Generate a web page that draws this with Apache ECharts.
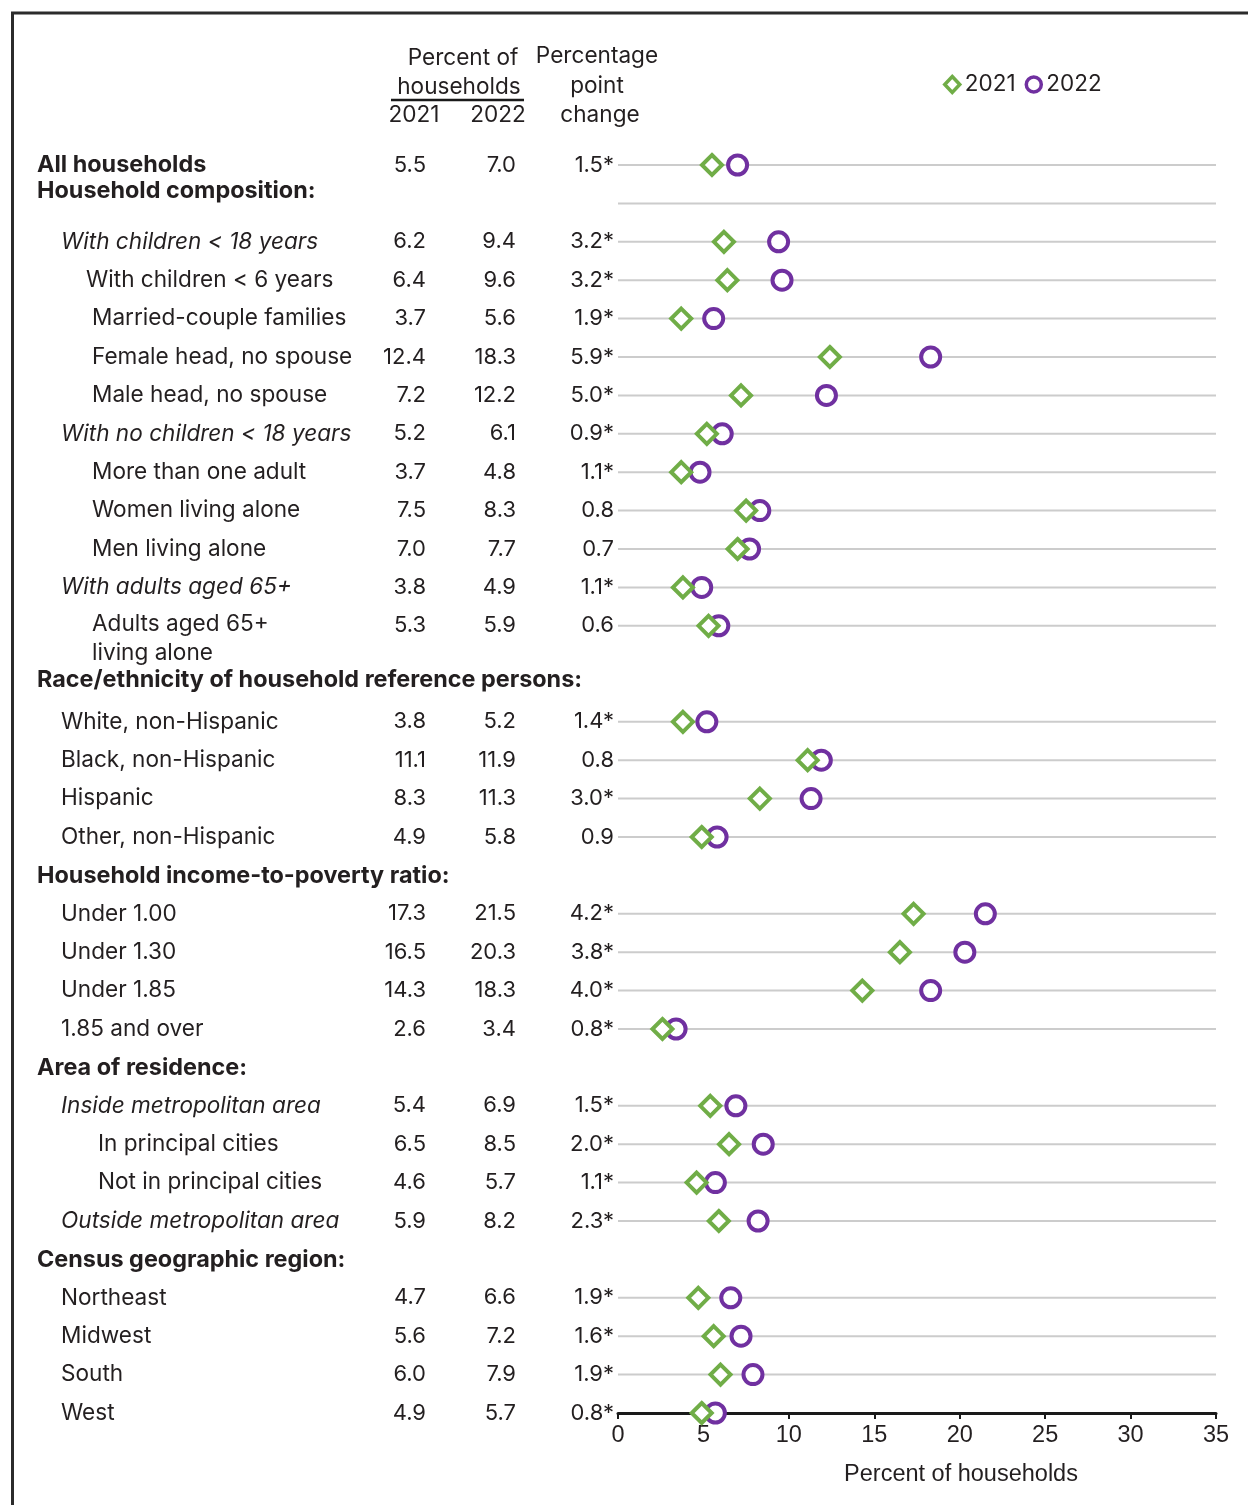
<!DOCTYPE html>
<html><head><meta charset="utf-8">
<script src="https://cdn.jsdelivr.net/npm/echarts@6/dist/echarts.min.js"></script>
<style>html,body{margin:0;padding:0;background:#fff}#c{width:1248px;height:1505px}</style>
</head><body><div id="c"></div>
<script>
// ---- data ----
const categories = [
  'All households',
  'Household composition:',
  'With children < 18 years',
  'With children < 6 years',
  'Married-couple families',
  'Female head, no spouse',
  'Male head, no spouse',
  'With no children < 18 years',
  'More than one adult',
  'Women living alone',
  'Men living alone',
  'With adults aged 65+',
  'Adults aged 65+\nliving alone',
  'Race/ethnicity of household reference persons:',
  'White, non-Hispanic',
  'Black, non-Hispanic',
  'Hispanic',
  'Other, non-Hispanic',
  'Household income-to-poverty ratio:',
  'Under 1.00',
  'Under 1.30',
  'Under 1.85',
  '1.85 and over',
  'Area of residence:',
  'Inside metropolitan area',
  'In principal cities',
  'Not in principal cities',
  'Outside metropolitan area',
  'Census geographic region:',
  'Northeast',
  'Midwest',
  'South',
  'West'
];
const rowType = ['total','header','italic','item','item','item','item','italic','item','item','item','italic','item',
  'header','item','item','item','item','header','item','item','item','item',
  'header','italic','item','item','italic','header','item','item','item','item'];
const indentLevel = [0,0,1,2,3,3,3,1,3,3,3,1,3, 0,1,1,1,1, 0,1,1,1,1, 0,1,4,4,1, 0,1,1,1,1];
const values2021 = [5.5,null,6.2,6.4,3.7,12.4,7.2,5.2,3.7,7.5,7.0,3.8,5.3,
  null,3.8,11.1,8.3,4.9, null,17.3,16.5,14.3,2.6, null,5.4,6.5,4.6,5.9, null,4.7,5.6,6.0,4.9];
const values2022 = [7.0,null,9.4,9.6,5.6,18.3,12.2,6.1,4.8,8.3,7.7,4.9,5.9,
  null,5.2,11.9,11.3,5.8, null,21.5,20.3,18.3,3.4, null,6.9,8.5,5.7,8.2, null,6.6,7.2,7.9,5.7];
const changeLabels = ['1.5*','', '3.2*','3.2*','1.9*','5.9*','5.0*','0.9*','1.1*','0.8','0.7','1.1*','0.6',
  '', '1.4*','0.8','3.0*','0.9', '', '4.2*','3.8*','4.0*','0.8*', '', '1.5*','2.0*','1.1*','2.3*', '', '1.9*','1.6*','1.9*','0.8*'];
const seriesNames = ['2021','2022'];
const xAxisName = 'Percent of households';

// ---- layout (row slots in half-row units) ----
const slots = [], labelSlots = [], gridSlots = [];
(function(){
  let s = 0, pendingHeader = -1, prevTwoLine = false, prevSlot = 0, headerHasLine = false;
  for (let i = 0; i < categories.length; i++) {
    if (i === 0) { slots[i] = 0; labelSlots[i] = 0; gridSlots.push(0); continue; }
    if (rowType[i] === 'header') {
      if (rowType[i-1] === 'total') {
        s += 2; slots[i] = s; labelSlots[i] = s - 0.65; gridSlots.push(s); headerHasLine = true;
      } else { slots[i] = null; headerHasLine = false; }
      pendingHeader = i; prevSlot = s; continue;
    }
    if (pendingHeader >= 0) {
      if (headerHasLine) s += 2;
      else {
        s += 4 + (prevTwoLine ? 1 : 0);
        labelSlots[pendingHeader] = (prevSlot + s) / 2 + (prevTwoLine ? 0.3 : 0.05);
      }
      pendingHeader = -1;
    } else s += 2;
    slots[i] = s; labelSlots[i] = s; gridSlots.push(s);
    prevTwoLine = categories[i].indexOf('\n') >= 0;
  }
})();
const maxSlot = slots[slots.length - 1];

const TXT = '#231f20';
const FONT = 'Inter, "Noto Sans", sans-serif';
const AXFONT = '"Liberation Sans", Arial, sans-serif';
const indentPx = [37, 61, 86, 92, 98];
const colX = [426, 516, 614];
const green = '#70ad47', purple = '#7030a0';

const chart = echarts.init(document.getElementById('c'), null, {renderer: 'canvas'});

function txt(x, y, text, opt) {
  opt = opt || {};
  return {
    type: 'text', x: x, y: y, silent: true,
    style: Object.assign({
      text: text, fill: TXT, fontFamily: FONT, fontSize: 22,
      align: opt.align || 'left', verticalAlign: opt.va || 'middle',
      textAlign: opt.align || 'left', textVerticalAlign: opt.va || 'middle'
    }, opt.style || {})
  };
}

const rowData = categories.map((c, i) => [0, labelSlots[i], i]);

const option = {
  animation: false,
  backgroundColor: '#fff',
  grid: {left: 618, right: 32, top: 165, bottom: 92, containLabel: false, outerBoundsMode: 'none'},
  legend: {
    left: 938, top: 68, itemWidth: 15, itemHeight: 16, itemGap: 9,
    data: seriesNames,
    textStyle: {fontFamily: FONT, fontSize: 22.5, color: TXT},
    itemStyle: {borderWidth: 3.5}
  },
  xAxis: {
    type: 'value', min: 0, max: 35, interval: 5, z: 3,
    axisLine: {show: true, onZero: false, lineStyle: {color: '#1a1a1a', width: 3}},
    axisTick: {show: true, length: 6, lineStyle: {color: '#1a1a1a', width: 2}},
    axisLabel: {fontFamily: AXFONT, fontSize: 23.5, color: TXT, margin: 11},
    splitLine: {show: false},
    name: xAxisName, nameLocation: 'middle', nameGap: 50,
    nameTextStyle: {fontFamily: AXFONT, fontSize: 23.5, color: TXT, padding: [0, 0, 0, 88]}
  },
  yAxis: {type: 'value', inverse: true, min: 0, max: maxSlot, show: false},
  series: [
    {
      type: 'custom', name: 'grid', silent: true, z: 1,
      data: gridSlots.map(s => [0, s]),
      renderItem: function(params, api) {
        const p0 = api.coord([0, api.value(1)]);
        const p1 = api.coord([35, api.value(1)]);
        return {type: 'line', shape: {x1: p0[0], y1: p0[1], x2: p1[0], y2: p1[1]},
          style: {stroke: '#cccccc', lineWidth: 2}};
      }
    },
    {
      type: 'custom', name: 'labels', silent: true, z: 2,
      data: rowData,
      renderItem: function(params, api) {
        const i = api.value(2);
        const y = api.coord([0, api.value(1)])[1];
        const t = rowType[i];
        const children = [];
        const st = {fontSize: 22.6};
        if (t === 'total' || t === 'header') { st.fontWeight = 'bold'; st.fontSize = 23.4; }
        if (t === 'italic') st.fontStyle = 'italic';
        if (categories[i].indexOf('\n') >= 0) {
          st.lineHeight = 29;
          children.push(txt(indentPx[indentLevel[i]], y - 16, categories[i], {va: 'top', style: st}));
        } else {
          children.push(txt(indentPx[indentLevel[i]], y, categories[i], {style: st}));
        }
        if (values2021[i] != null) {
          const yv = api.coord([0, slots[i]])[1];
          children.push(txt(colX[0], yv, values2021[i].toFixed(1), {align: 'right'}));
          children.push(txt(colX[1], yv, values2022[i].toFixed(1), {align: 'right'}));
          children.push(txt(colX[2], yv, changeLabels[i], {align: 'right'}));
        }
        return {type: 'group', children: children};
      }
    },
    {
      name: seriesNames[1], type: 'scatter', symbol: 'circle', symbolSize: 19, z: 4, clip: false,
      itemStyle: {color: '#ffffff', borderColor: purple, borderWidth: 4, opacity: 1},
      emphasis: {disabled: true},
      data: categories.map((c, i) => values2022[i] == null ? null : [values2022[i], slots[i]]).filter(d => d)
    },
    {
      name: seriesNames[0], type: 'scatter', symbol: 'diamond', symbolSize: 20, z: 5, clip: false,
      itemStyle: {color: '#ffffff', borderColor: green, borderWidth: 4, opacity: 1},
      emphasis: {disabled: true},
      data: categories.map((c, i) => values2021[i] == null ? null : [values2021[i], slots[i]]).filter(d => d)
    }
  ],
  graphic: [
    {type: 'rect', shape: {x: 12.5, y: 13, width: 1400, height: 1600}, style: {fill: 'none', stroke: '#2b2b2b', lineWidth: 3}, silent: true},
    txt(463, 58, 'Percent of', {align: 'center', style: {fontSize: 22.6}}),
    txt(459, 87, 'households', {align: 'center', style: {fontSize: 22.6}}),
    {type: 'line', shape: {x1: 391, y1: 100, x2: 524, y2: 100}, style: {stroke: '#1a1a1a', lineWidth: 2.5}, silent: true},
    txt(414, 115, '2021', {align: 'center', style: {fontSize: 22.6}}),
    txt(498, 115, '2022', {align: 'center', style: {fontSize: 22.6}}),
    txt(597, 56, 'Percentage', {align: 'center', style: {fontSize: 22.6}}),
    txt(597, 86, 'point', {align: 'center', style: {fontSize: 22.6}}),
    txt(600, 115, 'change', {align: 'center', style: {fontSize: 22.6}})
  ]
};
chart.setOption(option);
</script>
</body></html>
